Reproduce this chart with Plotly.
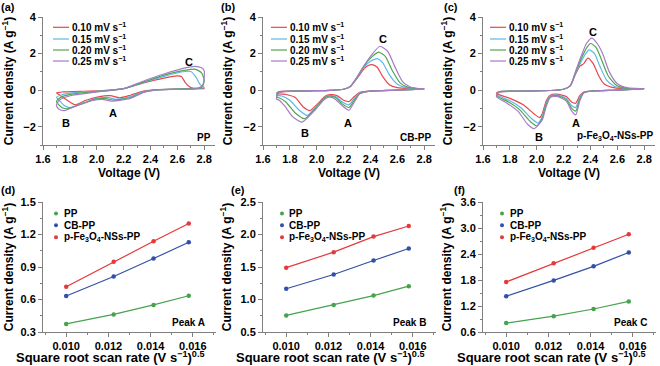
import plotly.graph_objects as go

W, H = 660, 366
FONT = "Liberation Sans, Arial, Helvetica, sans-serif"

# ---------------- data ----------------
RATE_LABELS = ["0.10", "0.15", "0.20", "0.25"]
CV_COLORS = ["#e8474c", "#5cb8e6", "#4ea64e", "#a67cc6"]

# (a) PP : cyclic voltammograms, loop starting at 2.8 V
a_v_010 = [2.80, 2.60, 2.45, 2.35, 2.25, 2.17, 2.10, 2.02, 1.92, 1.84, 1.78, 1.72, 1.70, 1.75, 1.90, 2.05, 2.20, 2.35, 2.50, 2.60, 2.63, 2.66, 2.70, 2.75, 2.80]
a_i_010 = [0.08, 0.06, 0.03, -0.05, -0.28, -0.42, -0.30, -0.35, -0.55, -0.80, -0.55, -0.25, -0.15, -0.10, -0.06, -0.03, 0.08, 0.40, 0.66, 0.78, 0.75, 0.40, 0.14, 0.09, 0.08]
a_v_015 = [2.80, 2.75, 2.60, 2.45, 2.35, 2.25, 2.15, 2.08, 2.00, 1.90, 1.80, 1.76, 1.72, 1.70, 1.74, 1.85, 2.00, 2.20, 2.35, 2.50, 2.62, 2.70, 2.74, 2.77, 2.80]
a_i_015 = [0.15, 0.08, 0.06, 0.02, -0.08, -0.35, -0.50, -0.40, -0.45, -0.70, -0.95, -0.85, -0.55, -0.40, -0.25, -0.12, -0.06, 0.08, 0.42, 0.75, 0.98, 1.02, 0.70, 0.30, 0.15]
a_v_020 = [2.80, 2.78, 2.70, 2.45, 2.35, 2.25, 2.13, 2.06, 1.98, 1.88, 1.78, 1.74, 1.70, 1.73, 1.85, 2.00, 2.20, 2.35, 2.50, 2.65, 2.73, 2.78, 2.80]
a_i_020 = [0.50, 0.15, 0.08, 0.02, -0.10, -0.40, -0.55, -0.45, -0.52, -0.78, -1.02, -0.95, -0.62, -0.40, -0.18, -0.08, 0.08, 0.45, 0.82, 1.08, 1.15, 0.95, 0.50]
a_v_025 = [2.80, 2.79, 2.75, 2.45, 2.35, 2.25, 2.11, 2.04, 1.96, 1.85, 1.76, 1.72, 1.70, 1.72, 1.82, 2.00, 2.20, 2.35, 2.50, 2.65, 2.73, 2.78, 2.80]
a_i_025 = [1.05, 0.30, 0.10, 0.02, -0.12, -0.45, -0.60, -0.50, -0.58, -0.85, -1.12, -1.05, -0.85, -0.55, -0.28, -0.10, 0.08, 0.50, 0.88, 1.20, 1.30, 1.22, 1.05]

# (b) CB-PP
b_v_010 = [2.80, 2.60, 2.40, 2.32, 2.28, 2.24, 2.20, 2.15, 2.10, 2.06, 2.01, 1.95, 1.90, 1.84, 1.78, 1.70, 1.72, 1.90, 2.10, 2.20, 2.25, 2.30, 2.35, 2.38, 2.41, 2.45, 2.49, 2.54, 2.60, 2.70, 2.80]
b_i_010 = [0.06, 0.00, -0.04, -0.12, -0.35, -0.62, -0.55, -0.30, -0.25, -0.35, -0.72, -1.12, -0.92, -0.40, -0.25, -0.18, -0.08, -0.04, -0.01, 0.05, 0.20, 0.65, 1.15, 1.33, 1.40, 1.25, 0.75, 0.30, 0.14, 0.08, 0.06]
b_v_015 = [2.80, 2.60, 2.40, 2.32, 2.28, 2.24, 2.19, 2.14, 2.10, 2.06, 2.00, 1.93, 1.87, 1.80, 1.74, 1.70, 1.72, 1.90, 2.10, 2.20, 2.25, 2.30, 2.35, 2.40, 2.45, 2.49, 2.54, 2.60, 2.66, 2.74, 2.80]
b_i_015 = [0.06, 0.00, -0.05, -0.15, -0.45, -0.80, -0.65, -0.35, -0.30, -0.40, -0.85, -1.38, -1.10, -0.55, -0.32, -0.28, -0.10, -0.05, -0.01, 0.05, 0.20, 0.68, 1.25, 1.58, 1.72, 1.50, 0.85, 0.32, 0.14, 0.08, 0.06]
b_v_020 = [2.80, 2.60, 2.40, 2.32, 2.28, 2.24, 2.19, 2.14, 2.09, 2.05, 1.99, 1.91, 1.84, 1.77, 1.72, 1.70, 1.72, 1.90, 2.10, 2.20, 2.25, 2.30, 2.35, 2.40, 2.46, 2.51, 2.56, 2.62, 2.68, 2.76, 2.80]
b_i_020 = [0.06, 0.00, -0.05, -0.18, -0.55, -0.95, -0.75, -0.40, -0.33, -0.48, -1.00, -1.56, -1.25, -0.65, -0.42, -0.38, -0.12, -0.05, -0.01, 0.05, 0.20, 0.70, 1.30, 1.75, 2.08, 1.85, 1.10, 0.40, 0.15, 0.08, 0.06]
b_v_025 = [2.80, 2.60, 2.40, 2.32, 2.28, 2.24, 2.19, 2.13, 2.09, 2.05, 1.98, 1.89, 1.82, 1.76, 1.72, 1.70, 1.72, 1.90, 2.10, 2.20, 2.25, 2.30, 2.35, 2.40, 2.47, 2.53, 2.58, 2.64, 2.70, 2.77, 2.80]
b_i_025 = [0.06, 0.00, -0.05, -0.20, -0.65, -1.10, -0.85, -0.45, -0.38, -0.55, -1.15, -1.75, -1.45, -0.85, -0.55, -0.48, -0.14, -0.05, -0.01, 0.05, 0.20, 0.72, 1.32, 1.85, 2.40, 2.10, 1.30, 0.45, 0.16, 0.08, 0.06]

# (c) p-Fe3O4-NSs-PP
c_v_010 = [2.80, 2.60, 2.40, 2.35, 2.32, 2.29, 2.26, 2.22, 2.15, 2.10, 2.07, 2.04, 2.02, 1.98, 1.90, 1.80, 1.70, 1.72, 1.90, 2.10, 2.20, 2.25, 2.29, 2.32, 2.35, 2.38, 2.42, 2.46, 2.50, 2.56, 2.65, 2.80]
c_i_010 = [0.07, 0.00, -0.05, -0.10, -0.30, -0.72, -0.65, -0.35, -0.22, -0.28, -0.60, -1.30, -1.50, -1.30, -0.80, -0.45, -0.18, -0.08, -0.05, -0.02, 0.05, 0.25, 0.90, 1.30, 1.45, 1.75, 1.45, 0.80, 0.35, 0.15, 0.08, 0.07]
c_v_015 = [2.80, 2.60, 2.40, 2.35, 2.32, 2.29, 2.26, 2.22, 2.15, 2.10, 2.07, 2.04, 2.01, 1.96, 1.88, 1.80, 1.70, 1.72, 1.90, 2.10, 2.20, 2.25, 2.29, 2.33, 2.36, 2.39, 2.43, 2.47, 2.52, 2.58, 2.66, 2.80]
c_i_015 = [0.07, 0.00, -0.05, -0.12, -0.40, -0.95, -0.85, -0.45, -0.26, -0.32, -0.70, -1.45, -1.80, -1.55, -0.95, -0.58, -0.25, -0.09, -0.05, -0.02, 0.05, 0.25, 0.95, 1.55, 1.95, 2.20, 2.00, 1.30, 0.55, 0.20, 0.09, 0.07]
c_v_020 = [2.80, 2.60, 2.40, 2.35, 2.32, 2.29, 2.26, 2.22, 2.15, 2.10, 2.07, 2.04, 2.00, 1.95, 1.87, 1.79, 1.70, 1.72, 1.90, 2.10, 2.20, 2.25, 2.29, 2.33, 2.37, 2.40, 2.44, 2.48, 2.53, 2.59, 2.67, 2.80]
c_i_020 = [0.07, 0.00, -0.06, -0.14, -0.50, -1.15, -1.00, -0.52, -0.30, -0.36, -0.80, -1.55, -1.95, -1.70, -1.05, -0.65, -0.30, -0.10, -0.05, -0.02, 0.05, 0.25, 1.00, 1.70, 2.30, 2.55, 2.35, 1.70, 0.80, 0.28, 0.10, 0.07]
c_v_025 = [2.80, 2.60, 2.40, 2.35, 2.32, 2.29, 2.26, 2.22, 2.15, 2.10, 2.07, 2.04, 1.98, 1.93, 1.86, 1.78, 1.70, 1.72, 1.90, 2.10, 2.20, 2.25, 2.29, 2.33, 2.37, 2.41, 2.45, 2.49, 2.54, 2.60, 2.68, 2.80]
c_i_025 = [0.07, 0.00, -0.06, -0.16, -0.60, -1.35, -1.15, -0.60, -0.34, -0.40, -0.90, -1.65, -2.10, -1.85, -1.15, -0.72, -0.35, -0.12, -0.05, -0.02, 0.05, 0.25, 1.05, 1.85, 2.55, 2.85, 2.55, 2.00, 1.00, 0.35, 0.12, 0.07]

# (d)-(f) peak current vs square root of scan rate
SQRT_RATE = [0.01000, 0.01225, 0.01414, 0.01581]
SAMPLES = ["PP", "CB-PP", "p-Fe<sub>3</sub>O<sub>4</sub>-NSs-PP"]
FIT_COLORS = ["#46a24e", "#3350a8", "#e5393b"]
PEAK_A_PP = [0.375, 0.462, 0.550, 0.635]
PEAK_A_CB = [0.632, 0.812, 0.978, 1.128]
PEAK_A_FE = [0.718, 0.948, 1.137, 1.302]
PEAK_B_PP = [0.755, 0.915, 1.060, 1.205]
PEAK_B_CB = [1.165, 1.385, 1.600, 1.785]
PEAK_B_FE = [1.490, 1.728, 1.968, 2.130]
PEAK_C_PP = [0.805, 0.965, 1.130, 1.305]
PEAK_C_CB = [1.425, 1.790, 2.115, 2.435]
PEAK_C_FE = [1.755, 2.185, 2.545, 2.855]

# ---------------- figure ----------------
def px(x):
    return x / W

def py(y):
    return 1 - y / H

fig = go.Figure()

cv_panels = [
    ([a_v_010, a_v_015, a_v_020, a_v_025], [a_i_010, a_i_015, a_i_020, a_i_025]),
    ([b_v_010, b_v_015, b_v_020, b_v_025], [b_i_010, b_i_015, b_i_020, b_i_025]),
    ([c_v_010, c_v_015, c_v_020, c_v_025], [c_i_010, c_i_015, c_i_020, c_i_025]),
]
for p, (vs, cs) in enumerate(cv_panels):
    ax = "" if p == 0 else str(p + 1)
    for k in range(4):
        fig.add_trace(go.Scatter(
            x=vs[k], y=cs[k], mode="lines", name=RATE_LABELS[k] + " mV s⁻¹",
            line=dict(color=CV_COLORS[k], width=1.2, shape="spline", smoothing=0.6),
            xaxis="x" + ax, yaxis="y" + ax, showlegend=False, hoverinfo="skip"))

peak_sets = [
    [PEAK_A_PP, PEAK_A_CB, PEAK_A_FE],
    [PEAK_B_PP, PEAK_B_CB, PEAK_B_FE],
    [PEAK_C_PP, PEAK_C_CB, PEAK_C_FE],
]
for p, series in enumerate(peak_sets):
    ax = str(p + 4)
    for k in range(3):
        fig.add_trace(go.Scatter(
            x=SQRT_RATE, y=series[k], mode="lines+markers", name=SAMPLES[k],
            line=dict(color=FIT_COLORS[k], width=1.2),
            marker=dict(color=FIT_COLORS[k], size=4.5),
            xaxis="x" + ax, yaxis="y" + ax, showlegend=False))

tickfont = dict(family=FONT, size=11, color="black", weight="bold")
titlefont = dict(family=FONT, size=12, color="black", weight="bold")
axis_common = dict(showline=True, linecolor="#808080", linewidth=1, ticks="outside",
                   ticklen=4, tickcolor="#808080", tickwidth=1, showgrid=False,
                   zeroline=False, tickfont=tickfont, mirror=False, automargin=False)

layout = dict(template="none", width=W, height=H, margin=dict(l=0, r=0, t=0, b=0, pad=0),
              paper_bgcolor="white", plot_bgcolor="white", showlegend=False,
              font=dict(family=FONT, color="black"))

top_left = [43, 263, 483]
bot_left = [43, 263, 483]
top_y = [py(145), py(17)]
bot_y = [py(332), py(202)]
for p in range(3):
    xn = "xaxis" if p == 0 else "xaxis%d" % (p + 1)
    yn = "yaxis" if p == 0 else "yaxis%d" % (p + 1)
    ax = "" if p == 0 else str(p + 1)
    layout[xn] = dict(axis_common, domain=[px(top_left[p]), px(top_left[p] + 172)],
                      range=[1.6, 2.88], dtick=0.2, tick0=1.6, tickformat=".1f",
                      minor=dict(dtick=0.1, ticks="outside", ticklen=2, tickcolor="#808080"),
                      anchor="y" + ax, title=dict(text="Voltage (V)", font=titlefont, standoff=4))
    layout[yn] = dict(axis_common, domain=top_y, range=[-3, 4], dtick=2, tick0=0,
                      minor=dict(dtick=1, ticks="outside", ticklen=2, tickcolor="#808080"),
                      anchor="x" + ax,
                      title=dict(text="Current density (A g<sup>−1</sup>)", font=titlefont, standoff=8))

y_ranges = [[0.3, 1.5], [0.5, 2.5], [0.6, 3.6]]
y_dticks = [0.3, 0.5, 0.6]
for p in range(3):
    n = p + 4
    xn, yn = "xaxis%d" % n, "yaxis%d" % n
    layout[xn] = dict(axis_common, domain=[px(bot_left[p]), px(bot_left[p] + 173)],
                      range=[0.0089, 0.0171], dtick=0.002, tick0=0, tickformat=".3f",
                      minor=dict(dtick=0.001, ticks="outside", ticklen=2, tickcolor="#808080"),
                      anchor="y%d" % n)
    layout[yn] = dict(axis_common, domain=bot_y, range=y_ranges[p], dtick=y_dticks[p],
                      tick0=0, tickformat=".1f",
                      minor=dict(dtick=y_dticks[p] / 2, ticks="outside", ticklen=2, tickcolor="#808080"),
                      anchor="x%d" % n,
                      title=dict(text="Current density (A g<sup>−1</sup>)", font=titlefont, standoff=6))

annotations = []
shapes = []

def label(text, x, y, size=11, xanchor="center", color="black"):
    annotations.append(dict(text=text, x=px(x), y=py(y), xref="paper", yref="paper",
                            xanchor=xanchor, yanchor="middle", showarrow=False,
                            font=dict(family=FONT, size=size, color=color, weight="bold")))

# panel letters
for t, x, y in [("(a)", 8, 7), ("(b)", 228, 7), ("(c)", 451, 7),
                ("(d)", 8, 190), ("(e)", 238, 190), ("(f)", 459, 190)]:
    label(t, x, y, size=11)

# bottom x titles
for cx in [110, 330, 551]:
    label("Square root scan rate (V s<sup>−1</sup>)<sup>0.5</sup>", cx, 357, size=13)

# CV legends
for off in [0, 218, 437]:
    for k in range(4):
        yy = [27.3, 39, 50, 61][k]
        shapes.append(dict(type="line", xref="paper", yref="paper",
                           x0=px(53 + off), x1=px(69 + off), y0=py(yy), y1=py(yy),
                           line=dict(color=CV_COLORS[k], width=1.2)))
        label(RATE_LABELS[k] + " mV s<sup>−1</sup>", 70 + off, yy, size=10, xanchor="left")

# fit legends
for mx, tx in [(56, 62), (282, 287), (502, 508)]:
    for k in range(3):
        yy = [213.5, 225.3, 237.3][k]
        shapes.append(dict(type="circle", xref="paper", yref="paper",
                           xsizemode="pixel", ysizemode="pixel",
                           xanchor=px(mx), yanchor=py(yy), x0=-2, x1=2, y0=-2, y1=2,
                           fillcolor=FIT_COLORS[k], line=dict(width=0)))
        label(SAMPLES[k], tx, yy, size=10, xanchor="left")

# sample labels
label("PP", 213, 137, size=10, xanchor="right")
label("CB-PP", 433, 137, size=10, xanchor="right")
label("p-Fe<sub>3</sub>O<sub>4</sub>-NSs-PP", 655, 136, size=10, xanchor="right")
label("Peak A", 207, 322, size=10, xanchor="right")
label("Peak B", 428, 322, size=10, xanchor="right")
label("Peak C", 649, 322, size=10, xanchor="right")

# peak letters (data coordinates)
for ax, t, v, i in [("", "C", 2.69, 1.55), ("", "A", 2.12, -1.26), ("", "B", 1.77, -1.8),
                    ("2", "C", 2.49, 2.77), ("2", "A", 2.235, -1.82), ("2", "B", 1.915, -2.37),
                    ("3", "C", 2.416, 3.19), ("3", "A", 2.293, -1.82), ("3", "B", 2.02, -2.55)]:
    annotations.append(dict(text=t, x=v, y=i, xref="x" + ax, yref="y" + ax, showarrow=False,
                            font=dict(family=FONT, size=11, color="black", weight="bold")))

layout["annotations"] = annotations
layout["shapes"] = shapes
fig.update_layout(**layout)
fig.write_html("out.html", config={"displayModeBar": False},
               post_script="document.body.style.margin='0px';document.body.style.overflow='hidden';")
